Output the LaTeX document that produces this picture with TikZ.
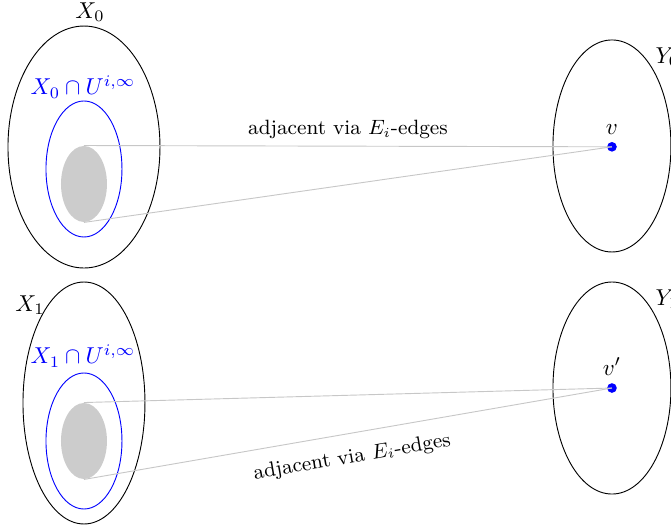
\documentclass[tikz,border=0pt]{standalone}
\usepackage{tikz}
\usepackage{xcolor}
\usetikzlibrary{shapes.geometric}

\begin{document}
\begin{tikzpicture}[
    set/.style={draw=black, ellipse, inner sep=0pt},
    subset/.style={draw=blue, ellipse, inner sep=0pt, minimum width=1.162cm, minimum height=2.08cm},
    blob/.style={fill=black!20, ellipse, inner sep=0pt, minimum width=0.703cm, minimum height=1.162cm},
    vertex/.style={fill=blue, circle, inner sep=0pt, minimum size=4.2pt},
    link/.style={draw=black!22, line width=0.4pt},
    edgelabel/.style={font=\small, text=black}
  ]
  % Fix the size of the picture
  \useasboundingbox (0,0) rectangle (10.26,-8.12);

  % Top row
  \node[set, minimum width=2.324cm, minimum height=3.7cm] (X0) at (1.284,-2.248) {};
  \node[subset] (U0) at (1.284,-2.584) {};
  \node[blob] (B0) at (1.284,-2.813) {};
  \node at (1.376,-0.19) {$X_0$};
  \node[text=blue] at (1.269,-1.33) {$X_0\cap U^{i,\infty}$};

  \node[set, minimum width=1.804cm, minimum height=3.242cm] (Y0) at (9.357,-2.232) {};
  \node[vertex] (v) at (9.357,-2.245) {};
  \node[above=2pt] at (v) {$v$};
  \node[anchor=west] at (9.90,-0.87) {$Y_0$};

  % Bottom row
  \node[set, minimum width=1.865cm, minimum height=3.7cm] (X1) at (1.284,-6.162) {};
  \node[subset] (U1) at (1.284,-6.743) {};
  \node[blob] (B1) at (1.284,-6.743) {};
  \node at (0.459,-4.663) {$X_1$};
  \node[text=blue] at (1.269,-5.443) {$X_1\cap U^{i,\infty}$};

  \node[set, minimum width=1.804cm, minimum height=3.242cm] (Y1) at (9.357,-5.933) {};
  \node[vertex] (w) at (9.357,-5.933) {};
  \node[above=2pt] at (w) {$v'$};
  \node[anchor=west] at (9.90,-4.57) {$Y_1$};

  % Edges between the sets
  \draw[link] (B0.north) -- node[edgelabel, above=-0.5pt] {adjacent via $E_i$-edges} (v.center);
  \draw[link] (B0.south) -- (v.center);
  \draw[link] (B1.north) -- (w.center);
  \draw[link] (B1.south) -- node[edgelabel, below=3pt, sloped] {adjacent via $E_i$-edges} (w.center);
\end{tikzpicture}
\end{document}
